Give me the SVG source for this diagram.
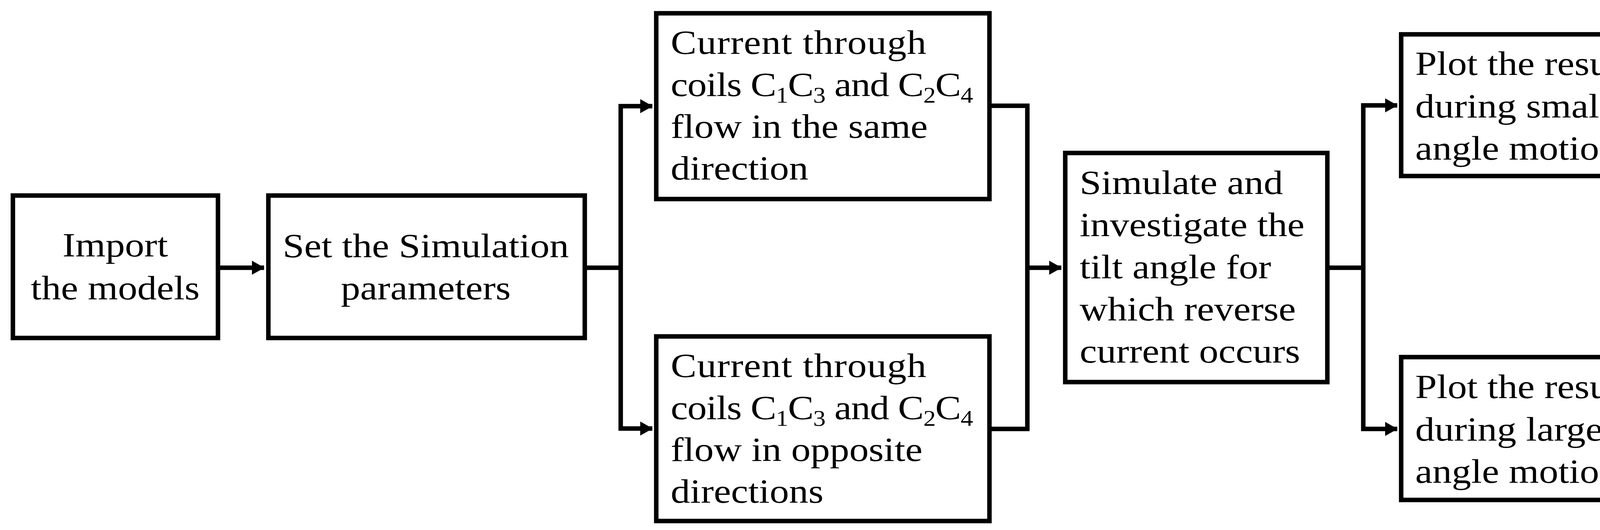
<svg xmlns="http://www.w3.org/2000/svg" width="4300" height="1358" viewBox="0 0 4300 1358">
<style>
.box{fill:#fff;stroke:#000;stroke-width:11.5}
.t{font-family:"Liberation Serif","Times New Roman",serif;font-size:87px;fill:#000}
.c{text-anchor:middle}
.sub{font-size:56px}
.con{fill:none;stroke:#000;stroke-width:11.5;stroke-linejoin:miter}
</style>
<defs>
<marker id="ah" markerUnits="userSpaceOnUse" markerWidth="34" markerHeight="36" viewBox="0 0 32 36" refX="31" refY="18" orient="auto-start-reverse">
<path d="M0 0 L32 18 L0 36 Z" fill="#000"/>
</marker>
</defs>
<rect width="4300" height="1358" fill="#fff"/>

<g id="connectors">
<path class="con" d="M557 686 H676" marker-end="url(#ah)"/>
<path class="con" d="M1497 686 H1589"/>
<path class="con" d="M1670 272 H1589 V1098 H1670" marker-start="url(#ah)" marker-end="url(#ah)"/>
<path class="con" d="M2533 271 H2630 V1099 H2533"/>
<path class="con" d="M2630 686 H2717" marker-end="url(#ah)"/>
<path class="con" d="M3398 686 H3490"/>
<path class="con" d="M3577 270 H3490 V1099 H3577" marker-start="url(#ah)" marker-end="url(#ah)"/>
</g>

<g id="node-import">
<rect class="box" x="33" y="501" width="525" height="365"/>
<g transform="translate(295,0) scale(1.14,1)">
<text class="t c" x="0" y="657">Import</text>
<text class="t c" x="0" y="767">the models</text>
</g>
</g>

<g id="node-set-params">
<rect class="box" x="687" y="501" width="810" height="365"/>
<g transform="translate(1090,0) scale(1.14,1)">
<text class="t c" x="0" y="659">Set the Simulation</text>
<text class="t c" x="0" y="767">parameters</text>
</g>
</g>

<g id="node-same-direction">
<rect class="box" x="1680" y="34" width="853" height="476"/>
<g transform="translate(1717,0) scale(1.14,1)">
<text class="t" x="0" y="138" textLength="574" lengthAdjust="spacing">Current through</text>
<text class="t" x="0" y="246" textLength="679" lengthAdjust="spacing">coils C<tspan class="sub" dy="17">1</tspan><tspan dy="-17">C</tspan><tspan class="sub" dy="17">3</tspan><tspan dy="-17"> and C</tspan><tspan class="sub" dy="17">2</tspan><tspan dy="-17">C</tspan><tspan class="sub" dy="17">4</tspan></text>
<text class="t" x="0" y="353">flow in the same</text>
<text class="t" x="0" y="460">direction</text>
</g>
</g>

<g id="node-opposite-directions">
<rect class="box" x="1680" y="862" width="853" height="473"/>
<g transform="translate(1717,0) scale(1.14,1)">
<text class="t" x="0" y="966" textLength="574" lengthAdjust="spacing">Current through</text>
<text class="t" x="0" y="1074" textLength="679" lengthAdjust="spacing">coils C<tspan class="sub" dy="17">1</tspan><tspan dy="-17">C</tspan><tspan class="sub" dy="17">3</tspan><tspan dy="-17"> and C</tspan><tspan class="sub" dy="17">2</tspan><tspan dy="-17">C</tspan><tspan class="sub" dy="17">4</tspan></text>
<text class="t" x="0" y="1181">flow in opposite</text>
<text class="t" x="0" y="1288">directions</text>
</g>
</g>

<g id="node-simulate">
<rect class="box" x="2727" y="392" width="671" height="587"/>
<g transform="translate(2764,0) scale(1.14,1)">
<text class="t" x="0" y="497">Simulate and</text>
<text class="t" x="0" y="605">investigate the</text>
<text class="t" x="0" y="713">tilt angle for</text>
<text class="t" x="0" y="821">which reverse</text>
<text class="t" x="0" y="929">current occurs</text>
</g>
</g>

<g id="node-small-angle">
<rect class="box" x="3587" y="88" width="681" height="363"/>
<g transform="translate(3623,0) scale(1.14,1)">
<text class="t" x="0" y="192">Plot the results</text>
<text class="t" x="0" y="301">during small-</text>
<text class="t" x="0" y="409">angle motion</text>
</g>
</g>

<g id="node-large-angle">
<rect class="box" x="3587" y="915" width="681" height="366"/>
<g transform="translate(3623,0) scale(1.14,1)">
<text class="t" x="0" y="1020">Plot the results</text>
<text class="t" x="0" y="1129">during large-</text>
<text class="t" x="0" y="1237">angle motion</text>
</g>
</g>
</svg>
